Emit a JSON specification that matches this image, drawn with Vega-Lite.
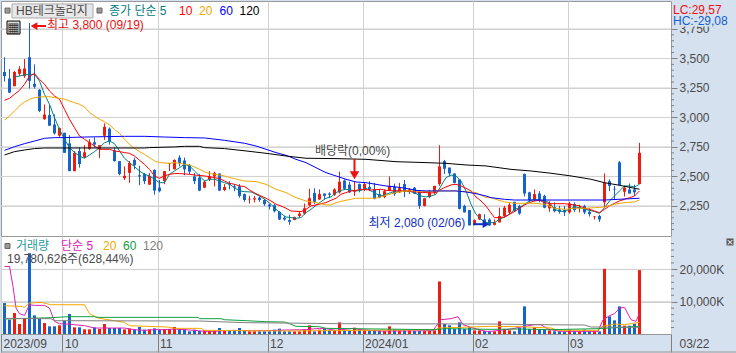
{"$schema":"https://vega.github.io/schema/vega-lite/v6.json","padding":0,"spacing":0,"bounds":"flush","background":"#d6e1ef","resolve":{"scale":{"color":"independent"}},"config":{"view":{"stroke":null},"concat":{"spacing":0},"axis":{"labelFont":"Liberation Sans, Noto Sans CJK KR","labelColor":"#4a4a4a","labelFontSize":12,"title":null}},
"datasets":{"days":[
{"i":0,"o":3385,"h":3510,"l":3305,"c":3350,"v":9580},{"i":1,"o":3330,"h":3410,"l":3210,"c":3210,"v":4430},{"i":2,"o":3265,"h":3395,"l":3265,"c":3385,"v":6490},{"i":3,"o":3370,"h":3435,"l":3350,"c":3410,"v":3090},{"i":4,"o":3350,"h":3495,"l":3335,"c":3415,"v":4640},{"i":5,"o":3510,"h":3800,"l":3245,"c":3310,"v":25030},{"i":6,"o":3285,"h":3450,"l":3245,"c":3260,"v":5770},{"i":7,"o":3235,"h":3240,"l":3045,"c":3055,"v":4640},{"i":8,"o":2985,"h":3110,"l":2980,"c":3025,"v":3400},{"i":9,"o":3020,"h":3110,"l":2930,"c":2930,"v":2370},
{"i":10,"o":2940,"h":3025,"l":2855,"c":2865,"v":2370},{"i":11,"o":2845,"h":2915,"l":2835,"c":2910,"v":2680},{"i":12,"o":2870,"h":2870,"l":2700,"c":2700,"v":4120},{"i":13,"o":2780,"h":2850,"l":2545,"c":2545,"v":6180},{"i":14,"o":2545,"h":2715,"l":2545,"c":2700,"v":2060},{"i":15,"o":2715,"h":2745,"l":2575,"c":2605,"v":2060},{"i":16,"o":2665,"h":2765,"l":2655,"c":2705,"v":1440},{"i":17,"o":2735,"h":2815,"l":2725,"c":2790,"v":1440},{"i":18,"o":2790,"h":2830,"l":2745,"c":2770,"v":2060},{"i":19,"o":2730,"h":2765,"l":2655,"c":2765,"v":1545},
{"i":20,"o":2845,"h":2950,"l":2810,"c":2920,"v":3090},{"i":21,"o":2905,"h":2915,"l":2770,"c":2800,"v":1850},{"i":22,"o":2720,"h":2745,"l":2625,"c":2630,"v":1850},{"i":23,"o":2630,"h":2630,"l":2510,"c":2520,"v":1850},{"i":24,"o":2485,"h":2585,"l":2470,"c":2505,"v":1440},{"i":25,"o":2530,"h":2630,"l":2445,"c":2615,"v":1650},{"i":26,"o":2640,"h":2660,"l":2560,"c":2595,"v":1440},{"i":27,"o":2510,"h":2590,"l":2425,"c":2500,"v":2160},{"i":28,"o":2520,"h":2530,"l":2435,"c":2460,"v":1340},{"i":29,"o":2430,"h":2530,"l":2430,"c":2505,"v":1440},
{"i":30,"o":2555,"h":2560,"l":2345,"c":2380,"v":1750},{"i":31,"o":2405,"h":2470,"l":2365,"c":2375,"v":1340},{"i":32,"o":2460,"h":2545,"l":2435,"c":2545,"v":1545},{"i":33,"o":2605,"h":2615,"l":2545,"c":2610,"v":1545},{"i":34,"o":2560,"h":2645,"l":2560,"c":2640,"v":2160},{"i":35,"o":2660,"h":2680,"l":2585,"c":2615,"v":1440},{"i":36,"o":2635,"h":2660,"l":2510,"c":2560,"v":1440},{"i":37,"o":2595,"h":2605,"l":2520,"c":2540,"v":825},{"i":38,"o":2500,"h":2530,"l":2435,"c":2460,"v":1340},{"i":39,"o":2490,"h":2520,"l":2375,"c":2380,"v":930},
{"i":40,"o":2405,"h":2465,"l":2400,"c":2455,"v":1130},{"i":41,"o":2475,"h":2545,"l":2460,"c":2500,"v":1030},{"i":42,"o":2500,"h":2540,"l":2415,"c":2530,"v":1030},{"i":43,"o":2525,"h":2525,"l":2375,"c":2380,"v":1850},{"i":44,"o":2385,"h":2435,"l":2375,"c":2410,"v":1130},{"i":45,"o":2440,"h":2460,"l":2390,"c":2430,"v":1030},{"i":46,"o":2415,"h":2435,"l":2375,"c":2405,"v":1030},{"i":47,"o":2415,"h":2435,"l":2320,"c":2335,"v":1850},{"i":48,"o":2350,"h":2355,"l":2285,"c":2300,"v":1030},{"i":49,"o":2305,"h":2335,"l":2270,"c":2310,"v":825},
{"i":50,"o":2305,"h":2335,"l":2280,"c":2315,"v":825},{"i":51,"o":2320,"h":2330,"l":2285,"c":2300,"v":825},{"i":52,"o":2300,"h":2310,"l":2250,"c":2265,"v":825},{"i":53,"o":2260,"h":2270,"l":2220,"c":2245,"v":825},{"i":54,"o":2255,"h":2265,"l":2195,"c":2205,"v":1340},{"i":55,"o":2200,"h":2205,"l":2130,"c":2135,"v":1650},{"i":56,"o":2150,"h":2165,"l":2125,"c":2135,"v":825},{"i":57,"o":2130,"h":2175,"l":2090,"c":2115,"v":825},{"i":58,"o":2130,"h":2160,"l":2130,"c":2155,"v":825},{"i":59,"o":2165,"h":2205,"l":2150,"c":2185,"v":825},
{"i":60,"o":2185,"h":2270,"l":2175,"c":2230,"v":1340},{"i":61,"o":2255,"h":2395,"l":2250,"c":2315,"v":2680},{"i":62,"o":2360,"h":2400,"l":2265,"c":2285,"v":825},{"i":63,"o":2305,"h":2390,"l":2300,"c":2350,"v":1340},{"i":64,"o":2355,"h":2355,"l":2305,"c":2335,"v":1545},{"i":65,"o":2355,"h":2365,"l":2315,"c":2345,"v":1130},{"i":66,"o":2345,"h":2400,"l":2335,"c":2390,"v":1130},{"i":67,"o":2365,"h":2540,"l":2355,"c":2455,"v":3605},{"i":68,"o":2465,"h":2475,"l":2385,"c":2395,"v":1130},{"i":69,"o":2430,"h":2455,"l":2360,"c":2365,"v":1130},
{"i":70,"o":2370,"h":2460,"l":2335,"c":2380,"v":1960},{"i":71,"o":2435,"h":2440,"l":2365,"c":2390,"v":1340},{"i":72,"o":2395,"h":2445,"l":2375,"c":2435,"v":1130},{"i":73,"o":2410,"h":2460,"l":2375,"c":2390,"v":925},{"i":74,"o":2390,"h":2445,"l":2305,"c":2310,"v":1130},{"i":75,"o":2350,"h":2390,"l":2315,"c":2320,"v":1130},{"i":76,"o":2325,"h":2390,"l":2315,"c":2375,"v":925},{"i":77,"o":2380,"h":2500,"l":2375,"c":2420,"v":2370},{"i":78,"o":2410,"h":2440,"l":2335,"c":2350,"v":1340},{"i":79,"o":2365,"h":2445,"l":2360,"c":2400,"v":1130},
{"i":80,"o":2435,"h":2470,"l":2325,"c":2370,"v":1130},{"i":81,"o":2370,"h":2400,"l":2350,"c":2390,"v":1130},{"i":82,"o":2405,"h":2410,"l":2350,"c":2355,"v":925},{"i":83,"o":2370,"h":2375,"l":2225,"c":2250,"v":925},{"i":84,"o":2250,"h":2315,"l":2245,"c":2315,"v":925},{"i":85,"o":2325,"h":2385,"l":2315,"c":2365,"v":925},{"i":86,"o":2365,"h":2420,"l":2350,"c":2420,"v":1130},{"i":87,"o":2435,"h":2765,"l":2420,"c":2585,"v":16270},{"i":88,"o":2630,"h":2640,"l":2520,"c":2565,"v":3090},{"i":89,"o":2575,"h":2575,"l":2500,"c":2525,"v":2680},
{"i":90,"o":2525,"h":2525,"l":2440,"c":2445,"v":1545},{"i":91,"o":2475,"h":2475,"l":2220,"c":2225,"v":3605},{"i":92,"o":2250,"h":2260,"l":2195,"c":2195,"v":1545},{"i":93,"o":2215,"h":2215,"l":2085,"c":2085,"v":2060},{"i":94,"o":2090,"h":2135,"l":2085,"c":2130,"v":1130},{"i":95,"o":2135,"h":2185,"l":2130,"c":2180,"v":1130},{"i":96,"o":2135,"h":2180,"l":2085,"c":2090,"v":925},{"i":97,"o":2135,"h":2145,"l":2080,"c":2085,"v":825},{"i":98,"o":2090,"h":2135,"l":2085,"c":2110,"v":825},{"i":99,"o":2110,"h":2235,"l":2110,"c":2165,"v":3910},
{"i":100,"o":2165,"h":2250,"l":2150,"c":2235,"v":1545},{"i":101,"o":2195,"h":2280,"l":2180,"c":2260,"v":1130},{"i":102,"o":2285,"h":2285,"l":2200,"c":2205,"v":825},{"i":103,"o":2250,"h":2260,"l":2175,"c":2185,"v":1850},{"i":104,"o":2520,"h":2525,"l":2330,"c":2355,"v":8550},{"i":105,"o":2365,"h":2370,"l":2280,"c":2300,"v":1545},{"i":106,"o":2300,"h":2390,"l":2290,"c":2350,"v":2060},{"i":107,"o":2355,"h":2375,"l":2280,"c":2300,"v":1545},{"i":108,"o":2335,"h":2345,"l":2230,"c":2235,"v":1545},{"i":109,"o":2230,"h":2290,"l":2200,"c":2260,"v":1130},
{"i":110,"o":2240,"h":2280,"l":2195,"c":2205,"v":825},{"i":111,"o":2220,"h":2250,"l":2185,"c":2200,"v":825},{"i":112,"o":2215,"h":2250,"l":2165,"c":2195,"v":620},{"i":113,"o":2195,"h":2285,"l":2185,"c":2270,"v":1340},{"i":114,"o":2265,"h":2280,"l":2200,"c":2215,"v":825},{"i":115,"o":2230,"h":2260,"l":2195,"c":2240,"v":825},{"i":116,"o":2250,"h":2260,"l":2180,"c":2195,"v":1340},{"i":117,"o":2200,"h":2230,"l":2160,"c":2180,"v":825},{"i":118,"o":2155,"h":2165,"l":2135,"c":2160,"v":825},{"i":119,"o":2165,"h":2175,"l":2115,"c":2135,"v":825},
{"i":120,"o":2280,"h":2525,"l":2240,"c":2445,"v":20190},{"i":121,"o":2460,"h":2475,"l":2375,"c":2420,"v":5460},{"i":122,"o":2395,"h":2420,"l":2305,"c":2390,"v":4220},{"i":123,"o":2620,"h":2630,"l":2425,"c":2425,"v":8550},{"i":124,"o":2370,"h":2420,"l":2330,"c":2405,"v":2575},{"i":125,"o":2390,"h":2440,"l":2355,"c":2355,"v":2575},{"i":126,"o":2390,"h":2430,"l":2335,"c":2365,"v":3190},{"i":127,"o":2435,"h":2785,"l":2435,"c":2700,"v":19780}],
"priceLines":[
{"s":"ma5","i":2,"p":3343},{"s":"ma5","i":3,"p":3351},{"s":"ma5","i":4,"p":3360},{"s":"ma5","i":5,"p":3365},{"s":"ma5","i":6,"p":3365},{"s":"ma5","i":7,"p":3309},{"s":"ma5","i":8,"p":3196},{"s":"ma5","i":9,"p":3111},{"s":"ma5","i":10,"p":2998},{"s":"ma5","i":11,"p":2899},{"s":"ma5","i":12,"p":2815},{"s":"ma5","i":13,"p":2744},{"s":"ma5","i":14,"p":2702},{"s":"ma5","i":15,"p":2673},{"s":"ma5","i":16,"p":2654},{"s":"ma5","i":17,"p":2682},{"s":"ma5","i":18,"p":2710},{"s":"ma5","i":19,"p":2744},{"s":"ma5","i":20,"p":2786},{"s":"ma5","i":21,"p":2800},{"s":"ma5","i":22,"p":2778},{"s":"ma5","i":23,"p":2716},{"s":"ma5","i":24,"p":2654},{"s":"ma5","i":25,"p":2617},{"s":"ma5","i":26,"p":2583},{"s":"ma5","i":27,"p":2546},{"s":"ma5","i":28,"p":2518},{"s":"ma5","i":29,"p":2504},{"s":"ma5","i":30,"p":2476},{"s":"ma5","i":31,"p":2447},{"s":"ma5","i":32,"p":2447},{"s":"ma5","i":33,"p":2518},{"s":"ma5","i":34,"p":2546},{"s":"ma5","i":35,"p":2574},{"s":"ma5","i":36,"p":2603},{"s":"ma5","i":37,"p":2589},{"s":"ma5","i":38,"p":2546},{"s":"ma5","i":39,"p":2504},{"s":"ma5","i":40,"p":2461},{"s":"ma5","i":41,"p":2476},{"s":"ma5","i":42,"p":2476},{"s":"ma5","i":43,"p":2461},{"s":"ma5","i":44,"p":2447},{"s":"ma5","i":45,"p":2433},{"s":"ma5","i":46,"p":2405},{"s":"ma5","i":47,"p":2377},{"s":"ma5","i":48,"p":2371},{"s":"ma5","i":49.3,"p":2368},{"s":"ma5","i":50.3,"p":2349},{"s":"ma5","i":51.3,"p":2326},{"s":"ma5","i":52.3,"p":2298},{"s":"ma5","i":53.3,"p":2264},{"s":"ma5","i":54.3,"p":2221},{"s":"ma5","i":55.3,"p":2185},{"s":"ma5","i":56.3,"p":2156},{"s":"ma5","i":57.3,"p":2151},{"s":"ma5","i":58.3,"p":2145},{"s":"ma5","i":59.3,"p":2151},{"s":"ma5","i":60.3,"p":2193},{"s":"ma5","i":61.3,"p":2221},{"s":"ma5","i":62.3,"p":2255},{"s":"ma5","i":63.3,"p":2286},{"s":"ma5","i":64.3,"p":2315},{"s":"ma5","i":65.3,"p":2326},{"s":"ma5","i":66.3,"p":2363},{"s":"ma5","i":67.3,"p":2382},{"s":"ma5","i":68.3,"p":2391},{"s":"ma5","i":69.3,"p":2385},{"s":"ma5","i":70.3,"p":2377},{"s":"ma5","i":71.3,"p":2382},{"s":"ma5","i":72.3,"p":2399},{"s":"ma5","i":73.3,"p":2377},{"s":"ma5","i":74.3,"p":2354},{"s":"ma5","i":75.3,"p":2334},{"s":"ma5","i":76.3,"p":2349},{"s":"ma5","i":77.3,"p":2363},{"s":"ma5","i":78.3,"p":2377},{"s":"ma5","i":79.3,"p":2371},{"s":"ma5","i":80.3,"p":2377},{"s":"ma5","i":81.3,"p":2371},{"s":"ma5","i":82.3,"p":2354},{"s":"ma5","i":83.3,"p":2334},{"s":"ma5","i":84.3,"p":2326},{"s":"ma5","i":85.3,"p":2334},{"s":"ma5","i":86.3,"p":2349},{"s":"ma5","i":87.3,"p":2419},{"s":"ma5","i":88.3,"p":2490},{"s":"ma5","i":89.3,"p":2512},{"s":"ma5","i":90.3,"p":2504},{"s":"ma5","i":91.3,"p":2461},{"s":"ma5","i":92.3,"p":2377},{"s":"ma5","i":93.3,"p":2264},{"s":"ma5","i":94.3,"p":2179},{"s":"ma5","i":95.3,"p":2137},{"s":"ma5","i":96.3,"p":2108},{"s":"ma5","i":98,"p":2108},{"s":"ma5","i":99,"p":2137},{"s":"ma5","i":100,"p":2156},{"s":"ma5","i":101,"p":2179},{"s":"ma5","i":102,"p":2221},{"s":"ma5","i":103,"p":2235},{"s":"ma5","i":104,"p":2264},{"s":"ma5","i":105,"p":2292},{"s":"ma5","i":106,"p":2306},{"s":"ma5","i":107,"p":2298},{"s":"ma5","i":108,"p":2292},{"s":"ma5","i":109,"p":2278},{"s":"ma5","i":110,"p":2221},{"s":"ma5","i":111,"p":2207},{"s":"ma5","i":112,"p":2202},{"s":"ma5","i":113,"p":2221},{"s":"ma5","i":114,"p":2241},{"s":"ma5","i":115,"p":2235},{"s":"ma5","i":116,"p":2221},{"s":"ma5","i":117,"p":2213},{"s":"ma5","i":118,"p":2202},{"s":"ma5","i":119,"p":2187},{"s":"ma5","i":120,"p":2235},{"s":"ma5","i":121,"p":2292},{"s":"ma5","i":122,"p":2334},{"s":"ma5","i":123,"p":2377},{"s":"ma5","i":124,"p":2419},{"s":"ma5","i":125,"p":2419},{"s":"ma5","i":126,"p":2411},{"s":"ma5","i":127,"p":2433},
{"s":"ma10","i":0,"p":3145},{"s":"ma10","i":1,"p":3162},{"s":"ma10","i":2,"p":3196},{"s":"ma10","i":3,"p":3230},{"s":"ma10","i":4,"p":3281},{"s":"ma10","i":5,"p":3351},{"s":"ma10","i":6,"p":3371},{"s":"ma10","i":7,"p":3323},{"s":"ma10","i":8,"p":3281},{"s":"ma10","i":9,"p":3224},{"s":"ma10","i":10,"p":3182},{"s":"ma10","i":11,"p":3154},{"s":"ma10","i":12,"p":3069},{"s":"ma10","i":13,"p":2984},{"s":"ma10","i":14,"p":2913},{"s":"ma10","i":15,"p":2843},{"s":"ma10","i":16,"p":2815},{"s":"ma10","i":17,"p":2786},{"s":"ma10","i":18,"p":2758},{"s":"ma10","i":19,"p":2730},{"s":"ma10","i":21,"p":2730},{"s":"ma10","i":22,"p":2716},{"s":"ma10","i":23,"p":2710},{"s":"ma10","i":24,"p":2702},{"s":"ma10","i":25,"p":2696},{"s":"ma10","i":26,"p":2673},{"s":"ma10","i":27,"p":2637},{"s":"ma10","i":28,"p":2603},{"s":"ma10","i":29,"p":2560},{"s":"ma10","i":30,"p":2504},{"s":"ma10","i":31,"p":2484},{"s":"ma10","i":32,"p":2504},{"s":"ma10","i":33,"p":2518},{"s":"ma10","i":34,"p":2524},{"s":"ma10","i":35,"p":2524},{"s":"ma10","i":37,"p":2518},{"s":"ma10","i":38,"p":2512},{"s":"ma10","i":40,"p":2504},{"s":"ma10","i":41,"p":2498},{"s":"ma10","i":42,"p":2490},{"s":"ma10","i":43,"p":2481},{"s":"ma10","i":44,"p":2461},{"s":"ma10","i":45,"p":2442},{"s":"ma10","i":46,"p":2433},{"s":"ma10","i":47,"p":2419},{"s":"ma10","i":48,"p":2414},{"s":"ma10","i":49.3,"p":2377},{"s":"ma10","i":50.3,"p":2354},{"s":"ma10","i":51.3,"p":2334},{"s":"ma10","i":52.3,"p":2315},{"s":"ma10","i":53.3,"p":2292},{"s":"ma10","i":54.3,"p":2264},{"s":"ma10","i":55.3,"p":2250},{"s":"ma10","i":56.3,"p":2230},{"s":"ma10","i":57.3,"p":2207},{"s":"ma10","i":59.3,"p":2202},{"s":"ma10","i":60.3,"p":2221},{"s":"ma10","i":61.3,"p":2250},{"s":"ma10","i":62.3,"p":2258},{"s":"ma10","i":63.3,"p":2269},{"s":"ma10","i":64.3,"p":2278},{"s":"ma10","i":65.3,"p":2298},{"s":"ma10","i":66.3,"p":2315},{"s":"ma10","i":67.3,"p":2349},{"s":"ma10","i":68.3,"p":2363},{"s":"ma10","i":69.3,"p":2377},{"s":"ma10","i":70.3,"p":2382},{"s":"ma10","i":71.3,"p":2391},{"s":"ma10","i":73.3,"p":2385},{"s":"ma10","i":75.3,"p":2391},{"s":"ma10","i":76.3,"p":2382},{"s":"ma10","i":78.3,"p":2377},{"s":"ma10","i":80.3,"p":2377},{"s":"ma10","i":81.3,"p":2374},{"s":"ma10","i":82.3,"p":2368},{"s":"ma10","i":84.3,"p":2363},{"s":"ma10","i":85.3,"p":2360},{"s":"ma10","i":86.3,"p":2363},{"s":"ma10","i":87.3,"p":2391},{"s":"ma10","i":88.3,"p":2411},{"s":"ma10","i":89.3,"p":2428},{"s":"ma10","i":90.3,"p":2433},{"s":"ma10","i":91.3,"p":2419},{"s":"ma10","i":92.3,"p":2399},{"s":"ma10","i":93.3,"p":2377},{"s":"ma10","i":94.3,"p":2326},{"s":"ma10","i":95.3,"p":2292},{"s":"ma10","i":96.3,"p":2250},{"s":"ma10","i":97,"p":2207},{"s":"ma10","i":98,"p":2151},{"s":"ma10","i":99,"p":2151},{"s":"ma10","i":100,"p":2156},{"s":"ma10","i":101,"p":2179},{"s":"ma10","i":102,"p":2202},{"s":"ma10","i":103,"p":2230},{"s":"ma10","i":104,"p":2258},{"s":"ma10","i":105,"p":2278},{"s":"ma10","i":106,"p":2292},{"s":"ma10","i":107,"p":2298},{"s":"ma10","i":108,"p":2278},{"s":"ma10","i":109,"p":2269},{"s":"ma10","i":112,"p":2269},{"s":"ma10","i":113,"p":2264},{"s":"ma10","i":114,"p":2258},{"s":"ma10","i":115,"p":2250},{"s":"ma10","i":116,"p":2230},{"s":"ma10","i":117,"p":2221},{"s":"ma10","i":118,"p":2207},{"s":"ma10","i":119,"p":2193},{"s":"ma10","i":120,"p":2221},{"s":"ma10","i":121,"p":2250},{"s":"ma10","i":122,"p":2272},{"s":"ma10","i":123,"p":2292},{"s":"ma10","i":124,"p":2306},{"s":"ma10","i":125,"p":2320},{"s":"ma10","i":126,"p":2334},{"s":"ma10","i":127,"p":2377},
{"s":"ma20","i":0,"p":2979},{"s":"ma20","i":1,"p":3012},{"s":"ma20","i":2,"p":3055},{"s":"ma20","i":3,"p":3097},{"s":"ma20","i":4,"p":3131},{"s":"ma20","i":5,"p":3154},{"s":"ma20","i":6,"p":3168},{"s":"ma20","i":7,"p":3173},{"s":"ma20","i":8,"p":3176},{"s":"ma20","i":9,"p":3176},{"s":"ma20","i":10,"p":3168},{"s":"ma20","i":11,"p":3162},{"s":"ma20","i":12,"p":3154},{"s":"ma20","i":13,"p":3140},{"s":"ma20","i":14,"p":3125},{"s":"ma20","i":15,"p":3111},{"s":"ma20","i":16,"p":3089},{"s":"ma20","i":17,"p":3041},{"s":"ma20","i":18,"p":3012},{"s":"ma20","i":19,"p":2984},{"s":"ma20","i":20,"p":2964},{"s":"ma20","i":21,"p":2936},{"s":"ma20","i":22,"p":2899},{"s":"ma20","i":23,"p":2865},{"s":"ma20","i":24,"p":2815},{"s":"ma20","i":25,"p":2772},{"s":"ma20","i":26,"p":2738},{"s":"ma20","i":27,"p":2710},{"s":"ma20","i":28,"p":2687},{"s":"ma20","i":29,"p":2659},{"s":"ma20","i":30,"p":2631},{"s":"ma20","i":31,"p":2617},{"s":"ma20","i":33,"p":2611},{"s":"ma20","i":34,"p":2617},{"s":"ma20","i":35,"p":2611},{"s":"ma20","i":36,"p":2603},{"s":"ma20","i":37,"p":2597},{"s":"ma20","i":38,"p":2580},{"s":"ma20","i":39,"p":2560},{"s":"ma20","i":40,"p":2540},{"s":"ma20","i":41,"p":2524},{"s":"ma20","i":42,"p":2518},{"s":"ma20","i":43,"p":2512},{"s":"ma20","i":44,"p":2504},{"s":"ma20","i":45,"p":2490},{"s":"ma20","i":46,"p":2481},{"s":"ma20","i":47,"p":2470},{"s":"ma20","i":48,"p":2461},{"s":"ma20","i":50.3,"p":2456},{"s":"ma20","i":52.3,"p":2433},{"s":"ma20","i":54.3,"p":2391},{"s":"ma20","i":56.3,"p":2363},{"s":"ma20","i":58.3,"p":2320},{"s":"ma20","i":60.3,"p":2292},{"s":"ma20","i":62.3,"p":2278},{"s":"ma20","i":64.3,"p":2258},{"s":"ma20","i":65.3,"p":2258},{"s":"ma20","i":66.3,"p":2278},{"s":"ma20","i":68.3,"p":2298},{"s":"ma20","i":70.3,"p":2315},{"s":"ma20","i":74.3,"p":2315},{"s":"ma20","i":76.3,"p":2340},{"s":"ma20","i":78.3,"p":2363},{"s":"ma20","i":80.3,"p":2377},{"s":"ma20","i":82.3,"p":2377},{"s":"ma20","i":84.3,"p":2371},{"s":"ma20","i":86.3,"p":2377},{"s":"ma20","i":90.3,"p":2377},{"s":"ma20","i":92.3,"p":2371},{"s":"ma20","i":94.3,"p":2363},{"s":"ma20","i":96.3,"p":2320},{"s":"ma20","i":97.3,"p":2320},{"s":"ma20","i":98.7,"p":2300},{"s":"ma20","i":100,"p":2284},{"s":"ma20","i":102,"p":2272},{"s":"ma20","i":106,"p":2272},{"s":"ma20","i":108,"p":2264},{"s":"ma20","i":110,"p":2230},{"s":"ma20","i":112,"p":2221},{"s":"ma20","i":114,"p":2230},{"s":"ma20","i":116,"p":2230},{"s":"ma20","i":118,"p":2235},{"s":"ma20","i":120,"p":2241},{"s":"ma20","i":122,"p":2264},{"s":"ma20","i":124,"p":2278},{"s":"ma20","i":126,"p":2284},{"s":"ma20","i":127,"p":2300},
{"s":"ma60","i":0,"p":2721},{"s":"ma60","i":2,"p":2752},{"s":"ma60","i":4,"p":2778},{"s":"ma60","i":6,"p":2800},{"s":"ma60","i":8,"p":2823},{"s":"ma60","i":10,"p":2829},{"s":"ma60","i":12,"p":2829},{"s":"ma60","i":16,"p":2834},{"s":"ma60","i":20,"p":2837},{"s":"ma60","i":24,"p":2840},{"s":"ma60","i":28,"p":2840},{"s":"ma60","i":32,"p":2834},{"s":"ma60","i":36,"p":2829},{"s":"ma60","i":40,"p":2826},{"s":"ma60","i":44,"p":2806},{"s":"ma60","i":48,"p":2781},{"s":"ma60","i":50.3,"p":2758},{"s":"ma60","i":52.3,"p":2730},{"s":"ma60","i":54.3,"p":2702},{"s":"ma60","i":56.3,"p":2679},{"s":"ma60","i":58.3,"p":2645},{"s":"ma60","i":60.3,"p":2617},{"s":"ma60","i":62.3,"p":2574},{"s":"ma60","i":64.3,"p":2532},{"s":"ma60","i":66.3,"p":2504},{"s":"ma60","i":68.3,"p":2476},{"s":"ma60","i":70.3,"p":2453},{"s":"ma60","i":72.3,"p":2447},{"s":"ma60","i":74.3,"p":2433},{"s":"ma60","i":76.3,"p":2419},{"s":"ma60","i":78.3,"p":2411},{"s":"ma60","i":80.3,"p":2399},{"s":"ma60","i":82.3,"p":2382},{"s":"ma60","i":84.3,"p":2377},{"s":"ma60","i":90.3,"p":2377},{"s":"ma60","i":92.3,"p":2368},{"s":"ma60","i":94.3,"p":2354},{"s":"ma60","i":96.3,"p":2334},{"s":"ma60","i":97.3,"p":2320},{"s":"ma60","i":100,"p":2306},{"s":"ma60","i":102,"p":2300},{"s":"ma60","i":120,"p":2300},{"s":"ma60","i":127,"p":2315},
{"s":"ma120","i":0,"p":2682},{"s":"ma120","i":2,"p":2710},{"s":"ma120","i":4,"p":2724},{"s":"ma120","i":6,"p":2736},{"s":"ma120","i":8,"p":2741},{"s":"ma120","i":28,"p":2741},{"s":"ma120","i":29,"p":2744},{"s":"ma120","i":34,"p":2750},{"s":"ma120","i":36,"p":2755},{"s":"ma120","i":39,"p":2755},{"s":"ma120","i":40,"p":2744},{"s":"ma120","i":44,"p":2736},{"s":"ma120","i":48.3,"p":2716},{"s":"ma120","i":52.3,"p":2696},{"s":"ma120","i":56.3,"p":2673},{"s":"ma120","i":60.3,"p":2654},{"s":"ma120","i":66.3,"p":2651},{"s":"ma120","i":72.3,"p":2645},{"s":"ma120","i":78.3,"p":2625},{"s":"ma120","i":84.3,"p":2617},{"s":"ma120","i":88.3,"p":2611},{"s":"ma120","i":92.3,"p":2597},{"s":"ma120","i":96.3,"p":2589},{"s":"ma120","i":97.3,"p":2583},{"s":"ma120","i":101.3,"p":2560},{"s":"ma120","i":105.3,"p":2546},{"s":"ma120","i":109.3,"p":2527},{"s":"ma120","i":113.3,"p":2504},{"s":"ma120","i":117.3,"p":2476},{"s":"ma120","i":120,"p":2447},{"s":"ma120","i":123,"p":2425},{"s":"ma120","i":127,"p":2391}],
"volLines":[
{"s":"v5","i":0,"p":20910},{"s":"v5","i":1,"p":20910},{"s":"v5","i":1.7,"p":14730},{"s":"v5","i":2.3,"p":8030},{"s":"v5","i":3,"p":6280},{"s":"v5","i":4,"p":5770},{"s":"v5","i":5,"p":9060},{"s":"v5","i":6,"p":8860},{"s":"v5","i":8,"p":8860},{"s":"v5","i":9,"p":8030},{"s":"v5","i":10,"p":3910},{"s":"v5","i":11,"p":3190},{"s":"v5","i":12,"p":3090},{"s":"v5","i":13,"p":3090},{"s":"v5","i":14,"p":2880},{"s":"v5","i":16,"p":2575},{"s":"v5","i":18,"p":1850},{"s":"v5","i":24,"p":1850},{"s":"v5","i":26,"p":1340},{"s":"v5","i":28,"p":1130},{"s":"v5","i":30,"p":1340},{"s":"v5","i":32,"p":1340},{"s":"v5","i":34,"p":1545},{"s":"v5","i":36,"p":1340},{"s":"v5","i":38,"p":1130},{"s":"v5","i":40,"p":825},{"s":"v5","i":42,"p":825},{"s":"v5","i":44,"p":1030},{"s":"v5","i":46,"p":1130},{"s":"v5","i":48.3,"p":1030},{"s":"v5","i":52.3,"p":1030},{"s":"v5","i":56.3,"p":1235},{"s":"v5","i":60.3,"p":1340},{"s":"v5","i":63,"p":1750},{"s":"v5","i":64.3,"p":1650},{"s":"v5","i":66.3,"p":1130},{"s":"v5","i":69.7,"p":1750},{"s":"v5","i":71.3,"p":1340},{"s":"v5","i":75,"p":925},{"s":"v5","i":79,"p":925},{"s":"v5","i":85.7,"p":1030},{"s":"v5","i":86.3,"p":2370},{"s":"v5","i":87.3,"p":4430},{"s":"v5","i":89.3,"p":4740},{"s":"v5","i":90.7,"p":5360},{"s":"v5","i":91.7,"p":2880},{"s":"v5","i":93.7,"p":1850},{"s":"v5","i":96.3,"p":825},{"s":"v5","i":97.3,"p":825},{"s":"v5","i":101.3,"p":1545},{"s":"v5","i":103.3,"p":2160},{"s":"v5","i":106,"p":2880},{"s":"v5","i":107.3,"p":2880},{"s":"v5","i":108.7,"p":1545},{"s":"v5","i":111,"p":825},{"s":"v5","i":118.7,"p":825},{"s":"v5","i":119.7,"p":4430},{"s":"v5","i":121,"p":5665},{"s":"v5","i":122,"p":6280},{"s":"v5","i":123,"p":8030},{"s":"v5","i":124,"p":8240},{"s":"v5","i":125.3,"p":4430},{"s":"v5","i":126.3,"p":3910},{"s":"v5","i":127,"p":6490},
{"s":"v20","i":0,"p":8755},{"s":"v20","i":3.3,"p":8550},{"s":"v20","i":4,"p":8240},{"s":"v20","i":5,"p":9580},{"s":"v20","i":7.3,"p":9785},{"s":"v20","i":9.3,"p":9065},{"s":"v20","i":16,"p":9065},{"s":"v20","i":17,"p":6280},{"s":"v20","i":18.7,"p":4945},{"s":"v20","i":20.7,"p":4430},{"s":"v20","i":24,"p":3605},{"s":"v20","i":25,"p":2575},{"s":"v20","i":28.7,"p":2370},{"s":"v20","i":32.7,"p":2160},{"s":"v20","i":34,"p":1750},{"s":"v20","i":39.3,"p":1750},{"s":"v20","i":40,"p":1130},{"s":"v20","i":48.3,"p":1030},{"s":"v20","i":56.3,"p":925},{"s":"v20","i":71.7,"p":1130},{"s":"v20","i":86.3,"p":1340},{"s":"v20","i":86.7,"p":1850},{"s":"v20","i":97.3,"p":2370},{"s":"v20","i":103.3,"p":2265},{"s":"v20","i":106,"p":2060},{"s":"v20","i":109.3,"p":1850},{"s":"v20","i":110.7,"p":1130},{"s":"v20","i":118.7,"p":1130},{"s":"v20","i":119.7,"p":2370},{"s":"v20","i":122,"p":3090},{"s":"v20","i":124,"p":2880},{"s":"v20","i":127,"p":3605},
{"s":"v60","i":0,"p":4635},{"s":"v60","i":9.3,"p":5045},{"s":"v60","i":12.7,"p":5355},{"s":"v60","i":18,"p":5355},{"s":"v60","i":18.7,"p":5150},{"s":"v60","i":38.7,"p":5150},{"s":"v60","i":39,"p":4740},{"s":"v60","i":43.3,"p":4740},{"s":"v60","i":44,"p":4430},{"s":"v60","i":48.3,"p":4120},{"s":"v60","i":52.3,"p":3810},{"s":"v60","i":56,"p":3710},{"s":"v60","i":57,"p":3190},{"s":"v60","i":58.3,"p":2370},{"s":"v60","i":63,"p":2265},{"s":"v60","i":64.3,"p":1750},{"s":"v60","i":85.7,"p":1340},{"s":"v60","i":88.3,"p":1650},{"s":"v60","i":97.3,"p":1440},{"s":"v60","i":103.3,"p":1545},{"s":"v60","i":109,"p":1340},{"s":"v60","i":118.7,"p":1650},{"s":"v60","i":127,"p":2370},
{"s":"v120","i":0,"p":4840},{"s":"v120","i":9.3,"p":4740},{"s":"v120","i":10,"p":4120},{"s":"v120","i":39,"p":4015},{"s":"v120","i":48.3,"p":3500},{"s":"v120","i":55.7,"p":3400},{"s":"v120","i":66.7,"p":3190},{"s":"v120","i":97.3,"p":3090},{"s":"v120","i":107.3,"p":2885},{"s":"v120","i":116,"p":2780},{"s":"v120","i":117.3,"p":2160},{"s":"v120","i":118.7,"p":2160},{"s":"v120","i":127,"p":2060}],
"priceGrid":[{"i":-0.7,"i2":133.3,"p":2250},{"i":-0.7,"i2":133.3,"p":2500},{"i":-0.7,"i2":133.3,"p":2750},{"i":-0.7,"i2":133.3,"p":3000},{"i":-0.7,"i2":133.3,"p":3250},{"i":-0.7,"i2":133.3,"p":3500},{"i":-0.7,"i2":133.3,"p":3750}],
"volGrid":[{"i":-0.7,"i2":133.3,"p":10000},{"i":-0.7,"i2":133.3,"p":20000}],
"priceMinor":[{"i":133.3,"i2":133.9,"p":2050},{"i":133.3,"i2":133.9,"p":2100},{"i":133.3,"i2":133.9,"p":2150},{"i":133.3,"i2":133.9,"p":2200},{"i":133.3,"i2":133.9,"p":2300},{"i":133.3,"i2":133.9,"p":2350},{"i":133.3,"i2":133.9,"p":2400},{"i":133.3,"i2":133.9,"p":2450},{"i":133.3,"i2":133.9,"p":2550},{"i":133.3,"i2":133.9,"p":2600},{"i":133.3,"i2":133.9,"p":2650},{"i":133.3,"i2":133.9,"p":2700},{"i":133.3,"i2":133.9,"p":2800},{"i":133.3,"i2":133.9,"p":2850},{"i":133.3,"i2":133.9,"p":2900},{"i":133.3,"i2":133.9,"p":2950},{"i":133.3,"i2":133.9,"p":3050},{"i":133.3,"i2":133.9,"p":3100},{"i":133.3,"i2":133.9,"p":3150},{"i":133.3,"i2":133.9,"p":3200},{"i":133.3,"i2":133.9,"p":3300},{"i":133.3,"i2":133.9,"p":3350},{"i":133.3,"i2":133.9,"p":3400},{"i":133.3,"i2":133.9,"p":3450},{"i":133.3,"i2":133.9,"p":3550},{"i":133.3,"i2":133.9,"p":3600},{"i":133.3,"i2":133.9,"p":3650},{"i":133.3,"i2":133.9,"p":3700}],
"volMinor":[{"i":133.3,"i2":133.9,"p":2000},{"i":133.3,"i2":133.9,"p":4000},{"i":133.3,"i2":133.9,"p":6000},{"i":133.3,"i2":133.9,"p":8000},{"i":133.3,"i2":133.9,"p":12000},{"i":133.3,"i2":133.9,"p":14000},{"i":133.3,"i2":133.9,"p":16000},{"i":133.3,"i2":133.9,"p":18000},{"i":133.3,"i2":133.9,"p":22000},{"i":133.3,"i2":133.9,"p":24000},{"i":133.3,"i2":133.9,"p":26000},{"i":133.3,"i2":133.9,"p":28000}],
"priceNotes":[
{"t":"HB테크놀러지","i":2.3,"p":3902,"s":"dark"},{"t":"종가 단순 5","i":20.9,"p":3902,"s":"ma5"},{"t":"10","i":34.9,"p":3902,"s":"ma10"},{"t":"20","i":38.9,"p":3902,"s":"ma20"},{"t":"60","i":43,"p":3902,"s":"ma60"},{"t":"120","i":47,"p":3902,"s":"ma120"},{"t":"최고 3,800 (09/19)","i":8.5,"p":3784,"s":"hi"},{"t":"배당락(0,00%)","i":62.1,"p":2716,"s":"dark"},{"t":"최저 2,080 (02/06)","i":72.8,"p":2106,"s":"lo"},{"t":"LC:29,57","i":133.7,"p":3911,"s":"hi"},{"t":"HC:-29,08","i":133.7,"p":3817,"s":"hc"}],
"volNotes":[
{"t":"거래량","i":2.3,"p":27245,"s":"vt"},{"t":"단순 5","i":11.3,"p":27245,"s":"v5"},{"t":"20","i":19.7,"p":27245,"s":"v20"},{"t":"60","i":23.7,"p":27245,"s":"v60"},{"t":"120","i":27.7,"p":27245,"s":"v120"},{"t":"19,780,626주(628,44%)","i":0.5,"p":23220,"s":"dark"}]},
"vconcat":[
{"width":670,"height":235,"view":{"fill":"#ffffff","stroke":"#999999"},"resolve":{"axis":{"y":"independent"}},
"encoding":{"x":{"field":"i","type":"quantitative","scale":{"domain":[-0.7,133.3],"nice":false,"zero":false,"padding":0},"axis":{"values":[11.6,30.6,52.6,71.6,93.6,112.6],"grid":true,"gridColor":"#d2d2d2","labels":false,"ticks":false,"domain":false,"title":null}}},
"layer":[
{"data":{"name":"priceGrid"},"mark":{"type":"rule","color":"#d2d2d2","strokeWidth":1},"encoding":{"x2":{"field":"i2"},"y":{"field":"p","type":"quantitative","scale":{"domain":[1995,3987],"nice":false,"zero":false},"axis":{"orient":"right","title":null,"labels":false,"ticks":false,"grid":false,"domain":false}}}},
{"data":{"name":"days"},"mark":{"type":"rule","strokeWidth":1},"encoding":{"y":{"field":"h","type":"quantitative","scale":{"domain":[1995,3987],"nice":false,"zero":false},"axis":{"orient":"right","values":[2250,2500,2750,3000,3250,3500,3750],"grid":true,"gridColor":"#d2d2d2","domain":false,"tickColor":"#808080","tickSize":6,"labelPadding":2,"format":",d","labelOverlap":false,"title":null}},"y2":{"field":"l"},"color":{"condition":{"test":"datum.c>=datum.o","value":"#ee1c0e"},"value":"#1763cc"}}},
{"data":{"name":"days"},"mark":{"type":"bar","size":3},"encoding":{"y":{"field":"o","type":"quantitative","scale":{"domain":[1995,3987],"nice":false,"zero":false},"axis":{"orient":"right","title":null,"labels":false,"ticks":false,"grid":false,"domain":false}},"y2":{"field":"c"},"color":{"condition":{"test":"datum.c>=datum.o","value":"#ee1c0e"},"value":"#1763cc"}}},
{"data":{"name":"priceLines"},"mark":{"type":"line","strokeWidth":1},"encoding":{"y":{"field":"p","type":"quantitative","scale":{"domain":[1995,3987],"nice":false,"zero":false},"axis":{"orient":"right","title":null,"labels":false,"ticks":false,"grid":false,"domain":false}},"color":{"field":"s","type":"nominal","legend":null,"scale":{"domain":["ma5","ma10","ma20","ma60","ma120","hi","lo","hc","dark"],"range":["#008080","#ff0000","#f0a800","#0000ff","#000000","#ee1111","#1030c0","#1060d0","#4a4a4a"]}}}},
{"data":{"name":"priceMinor"},"mark":{"type":"rule","color":"#808080","strokeWidth":1},"encoding":{"x2":{"field":"i2"},"y":{"field":"p","type":"quantitative","scale":{"domain":[1995,3987],"nice":false,"zero":false},"axis":{"orient":"right","title":null,"labels":false,"ticks":false,"grid":false,"domain":false}}}},
{"data":{"values":[{"i":1.5,"i2":17.7,"p":3962,"p2":3843}]},"mark":{"type":"rect","fill":"#e8e8e8","stroke":"#aaaaaa"},"encoding":{"x2":{"field":"i2"},"y":{"field":"p","type":"quantitative","scale":{"domain":[1995,3987],"nice":false,"zero":false},"axis":{"orient":"right","title":null,"labels":false,"ticks":false,"grid":false,"domain":false}},"y2":{"field":"p2"}}},
{"data":{"values":[{"i":0.5,"i2":3.1,"p":3817,"p2":3707}]},"mark":{"type":"rect","fill":"#dddddd","stroke":"#000000"},"encoding":{"x2":{"field":"i2"},"y":{"field":"p","type":"quantitative","scale":{"domain":[1995,3987],"nice":false,"zero":false},"axis":{"orient":"right","title":null,"labels":false,"ticks":false,"grid":false,"domain":false}},"y2":{"field":"p2"}}},
{"data":{"values":[{"i":0.6,"p":3906},{"i":19,"p":3906}]},"mark":{"type":"point","shape":"square","filled":true,"size":25,"color":"#999999","stroke":"#666666","strokeWidth":1,"opacity":1},"encoding":{"y":{"field":"p","type":"quantitative","scale":{"domain":[1995,3987],"nice":false,"zero":false},"axis":{"orient":"right","title":null,"labels":false,"ticks":false,"grid":false,"domain":false}}}},
{"data":{"values":[{"i":133.5,"i2":146.5,"p":3987,"p2":3770}]},"mark":{"type":"rect","fill":"#d6e1ef"},"encoding":{"x2":{"field":"i2"},"y":{"field":"p","type":"quantitative","scale":{"domain":[1995,3987],"nice":false,"zero":false},"axis":{"orient":"right","title":null,"labels":false,"ticks":false,"grid":false,"domain":false}},"y2":{"field":"p2"}}},
{"data":{"values":[{"i":5.9,"i2":8.3,"p":3775}]},"mark":{"type":"rule","color":"#ee1111","strokeWidth":2},"encoding":{"x2":{"field":"i2"},"y":{"field":"p","type":"quantitative","scale":{"domain":[1995,3987],"nice":false,"zero":false},"axis":{"orient":"right","title":null,"labels":false,"ticks":false,"grid":false,"domain":false}}}},
{"data":{"values":[{"i":5.9,"p":3775}]},"mark":{"type":"point","shape":"triangle-left","filled":true,"size":60,"color":"#ee1111","opacity":1},"encoding":{"y":{"field":"p","type":"quantitative","scale":{"domain":[1995,3987],"nice":false,"zero":false},"axis":{"orient":"right","title":null,"labels":false,"ticks":false,"grid":false,"domain":false}}}},
{"data":{"values":[{"i":93.7,"i2":96,"p":2095}]},"mark":{"type":"rule","color":"#1030c0","strokeWidth":2},"encoding":{"x2":{"field":"i2"},"y":{"field":"p","type":"quantitative","scale":{"domain":[1995,3987],"nice":false,"zero":false},"axis":{"orient":"right","title":null,"labels":false,"ticks":false,"grid":false,"domain":false}}}},
{"data":{"values":[{"i":96.3,"p":2095}]},"mark":{"type":"point","shape":"triangle-right","filled":true,"size":60,"color":"#1030c0","opacity":1},"encoding":{"y":{"field":"p","type":"quantitative","scale":{"domain":[1995,3987],"nice":false,"zero":false},"axis":{"orient":"right","title":null,"labels":false,"ticks":false,"grid":false,"domain":false}}}},
{"data":{"values":[{"i":70,"p":2648,"p2":2529}]},"mark":{"type":"rule","color":"#ee1111","strokeWidth":2},"encoding":{"y":{"field":"p","type":"quantitative","scale":{"domain":[1995,3987],"nice":false,"zero":false},"axis":{"orient":"right","title":null,"labels":false,"ticks":false,"grid":false,"domain":false}},"y2":{"field":"p2"}}},
{"data":{"values":[{"i":70,"p":2510}]},"mark":{"type":"point","shape":"triangle-down","filled":true,"size":90,"color":"#ee1111","opacity":1},"encoding":{"y":{"field":"p","type":"quantitative","scale":{"domain":[1995,3987],"nice":false,"zero":false},"axis":{"orient":"right","title":null,"labels":false,"ticks":false,"grid":false,"domain":false}}}},
{"data":{"name":"priceNotes"},"mark":{"type":"text","align":"left","baseline":"middle","font":"Liberation Sans, Noto Sans CJK KR","fontSize":12},"encoding":{"y":{"field":"p","type":"quantitative","scale":{"domain":[1995,3987],"nice":false,"zero":false},"axis":{"orient":"right","title":null,"labels":false,"ticks":false,"grid":false,"domain":false}},"text":{"field":"t"},"color":{"field":"s","type":"nominal","legend":null,"scale":{"domain":["ma5","ma10","ma20","ma60","ma120","hi","lo","hc","dark"],"range":["#008080","#ff0000","#f0a800","#0000ff","#000000","#ee1111","#1030c0","#1060d0","#4a4a4a"]}}}},
{"data":{"values":[{"i":1.8,"p":3762}]},"mark":{"type":"text","text":"▦","font":"DejaVu Sans","fontSize":13,"color":"#333333"},"encoding":{"y":{"field":"p","type":"quantitative","scale":{"domain":[1995,3987],"nice":false,"zero":false},"axis":{"orient":"right","title":null,"labels":false,"ticks":false,"grid":false,"domain":false}}}}
]},
{"width":670,"height":98,"view":{"fill":"#ffffff","stroke":"#999999"},"resolve":{"axis":{"y":"independent"}},
"encoding":{"x":{"field":"i","type":"quantitative","scale":{"domain":[-0.7,133.3],"nice":false,"zero":false,"padding":0},"axis":{"values":[-0.7,11.6,30.6,52.6,71.6,93.6,112.6,133.3],"grid":true,"gridColor":"#d2d2d2","domain":false,"tickColor":"#808080","tickSize":18,"labelAlign":"left","labelBaseline":"middle","labelPadding":-9,"labelOffset":{"condition":{"test":"datum.value>133","value":8},"value":2},"labelExpr":"datum.value<0?'2023/09':datum.value<12?'10':datum.value<31?'11':datum.value<53?'12':datum.value<72?'2024/01':datum.value<94?'02':datum.value<113?'03':'03/22'","labelOverlap":false,"labelFlush":false,"title":null}}},
"layer":[
{"data":{"name":"volGrid"},"mark":{"type":"rule","color":"#d2d2d2","strokeWidth":1},"encoding":{"x2":{"field":"i2"},"y":{"field":"p","type":"quantitative","scale":{"domain":[0,30340],"nice":false,"zero":false},"axis":{"orient":"right","title":null,"labels":false,"ticks":false,"grid":false,"domain":false}}}},
{"data":{"name":"days"},"mark":{"type":"bar","size":3},"encoding":{"y":{"field":"v","type":"quantitative","scale":{"domain":[0,30340],"nice":false,"zero":false},"axis":{"orient":"right","values":[10000,20000],"grid":true,"gridColor":"#d2d2d2","domain":false,"tickColor":"#808080","tickSize":6,"labelPadding":2,"labelExpr":"format(datum.value,',')+'K'","labelOverlap":false,"title":null}},"color":{"condition":{"test":"datum.c>=datum.o","value":"#ee1c0e"},"value":"#1763cc"}}},
{"data":{"name":"volLines"},"mark":{"type":"line","strokeWidth":1},"encoding":{"y":{"field":"p","type":"quantitative","scale":{"domain":[0,30340],"nice":false,"zero":false},"axis":{"orient":"right","title":null,"labels":false,"ticks":false,"grid":false,"domain":false}},"color":{"field":"s","type":"nominal","legend":null,"scale":{"domain":["v5","v20","v60","v120","vt","dark"],"range":["#e020b0","#f5a800","#10a040","#808080","#2b9a9a","#4a4a4a"]}}}},
{"data":{"name":"volMinor"},"mark":{"type":"rule","color":"#808080","strokeWidth":1},"encoding":{"x2":{"field":"i2"},"y":{"field":"p","type":"quantitative","scale":{"domain":[0,30340],"nice":false,"zero":false},"axis":{"orient":"right","title":null,"labels":false,"ticks":false,"grid":false,"domain":false}}}},
{"data":{"values":[{"i":-0.7,"i2":146.5,"p":-5573}]},"mark":{"type":"rule","color":"#999999","strokeWidth":1},"encoding":{"x2":{"field":"i2"},"y":{"field":"p","type":"quantitative","scale":{"domain":[0,30340],"nice":false,"zero":false},"axis":{"orient":"right","title":null,"labels":false,"ticks":false,"grid":false,"domain":false}}}},
{"data":{"values":[{"i":0.6,"p":27245}]},"mark":{"type":"point","shape":"square","filled":true,"size":25,"color":"#999999","stroke":"#666666","strokeWidth":1,"opacity":1},"encoding":{"y":{"field":"p","type":"quantitative","scale":{"domain":[0,30340],"nice":false,"zero":false},"axis":{"orient":"right","title":null,"labels":false,"ticks":false,"grid":false,"domain":false}}}},
{"data":{"values":[{"i":145.1,"p":28483}]},"mark":{"type":"point","shape":"square","filled":true,"size":49,"color":"#555555","opacity":1},"encoding":{"y":{"field":"p","type":"quantitative","scale":{"domain":[0,30340],"nice":false,"zero":false},"axis":{"orient":"right","title":null,"labels":false,"ticks":false,"grid":false,"domain":false}}}},
{"data":{"values":[{"i":145.1,"p":28483}]},"mark":{"type":"text","text":"×","fontSize":9,"font":"DejaVu Sans","color":"#ffffff"},"encoding":{"y":{"field":"p","type":"quantitative","scale":{"domain":[0,30340],"nice":false,"zero":false},"axis":{"orient":"right","title":null,"labels":false,"ticks":false,"grid":false,"domain":false}}}},
{"data":{"name":"volNotes"},"mark":{"type":"text","align":"left","baseline":"middle","font":"Liberation Sans, Noto Sans CJK KR","fontSize":12},"encoding":{"y":{"field":"p","type":"quantitative","scale":{"domain":[0,30340],"nice":false,"zero":false},"axis":{"orient":"right","title":null,"labels":false,"ticks":false,"grid":false,"domain":false}},"text":{"field":"t"},"color":{"field":"s","type":"nominal","legend":null,"scale":{"domain":["v5","v20","v60","v120","vt","dark"],"range":["#e020b0","#f5a800","#10a040","#808080","#2b9a9a","#4a4a4a"]}}}}
]}]}
